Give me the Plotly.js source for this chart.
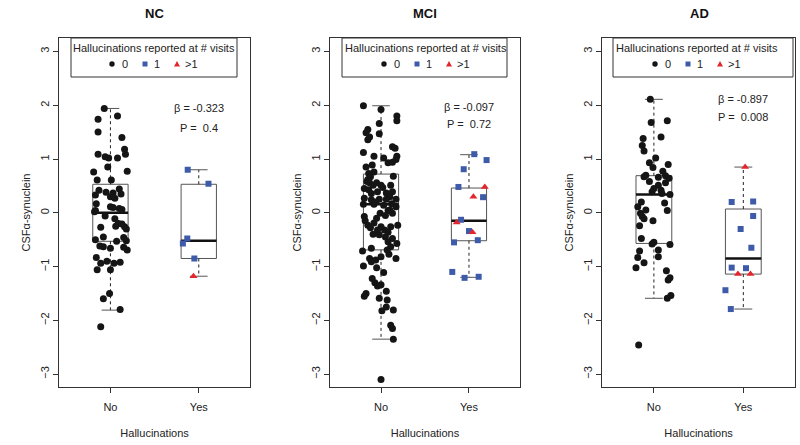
<!DOCTYPE html>
<html>
<head>
<meta charset="utf-8">
<script src="https://cdn.plot.ly/plotly-3.0.1.min.js"></script>
<style>
  html, body { margin: 0; padding: 0; background: #fff; }
  #chart { width: 800px; height: 445px; }
</style>
</head>
<body>
<div id="chart"></div>
<script>
// groups and labels
var panels = ['NC', 'MCI', 'AD'];
var groupLabels = ['No', 'Yes'];
var legendTitle = 'Hallucinations reported at # visits';
var legendNames = ['0', '1', '>1'];
var betaText = ['β = -0.323', 'β = -0.097', 'β = -0.897'];
var pText = ['P =  0.4', 'P =  0.72', 'P =  0.008'];

// box stats per panel: [No, Yes]
var q1 = [[-0.53, -0.85], [-0.69, -0.52], [-0.57, -1.14]];
var med = [[0.00, -0.52], [0.16, -0.15], [0.34, -0.85]];
var q3 = [[0.53, 0.53], [0.72, 0.46], [0.69, 0.07]];
var lowW = [[-1.81, -1.18], [-2.35, -1.20], [-1.59, -1.79]];
var upW = [[1.94, 0.80], [1.99, 1.08], [2.11, 0.85]];

// NC, hallucinations = No (0 visits)
var ncNoY = [1.94, 1.74, 1.80, 1.50, 1.40, 1.18, 1.09, 1.09, 1.04, 1.02, 1.02, 0.85, 0.77, 0.76, 0.61, 0.61,
  0.42, 0.38, 0.37, 0.44, 0.35, 0.33, 0.30, 0.27, 0.17, 0.11, 0.10, 0.06, 0.04, -0.06, -0.11, -0.20, -0.25,
  -0.27, -0.26, -0.21, -0.45, -0.46, -0.50, -0.52, -0.53, -0.62, -0.63, -0.66, -0.64, -0.69, -0.83, -0.90,
  -0.94, -0.94, -0.92, -1.06, -1.06, -1.50, -1.60, -1.80, -2.12, 0.02, -0.30, 0.08];
var ncNoX = [-0.07, -0.14, 0.08, -0.14, 0.13, 0.16, 0.17, -0.14, -0.06, -0.02, 0.08, -0.03, 0.19, -0.19, -0.15, 0.01,
  -0.13, -0.05, 0.03, 0.10, 0.12, -0.17, 0.00, 0.05, -0.16, 0.00, 0.03, 0.13, -0.17, -0.06, 0.05, 0.09, 0.06,
  -0.11, 0.16, 0.13, -0.08, 0.15, -0.17, 0.18, 0.07, -0.12, -0.08, 0.00, 0.15, 0.19, -0.16, -0.04,
  -0.11, 0.04, 0.11, -0.15, 0.00, -0.01, -0.08, 0.11, -0.11, -0.18, 0.18, 0.10];
// NC, Yes
var ncYes1Y = [0.80, 0.54, -0.48, -0.57, -0.85];
var ncYes1X = [-0.125, 0.11, -0.13, -0.18, -0.05];
var ncYes2Y = [-1.18];
var ncYes2X = [-0.06];

// MCI, No
var mciNoY = [1.99, 1.92, 1.80, 1.71, 1.66, 1.55, 1.49, 1.47, 1.41, 1.36, 1.12, 1.05, 1.02, 1.23, 1.20, 1.05,
  0.93, 0.94, 0.99, 0.85, 0.89, 0.73, 0.76, 0.67, 0.58, 0.56, 0.51, 0.56, 0.51, 0.51, 0.45, 0.43, 0.36, 0.39,
  0.37, 0.39, 0.27, 0.24, 0.25, 0.25, 0.25, 0.16, 0.16, 0.14, 0.17, 0.11, -0.07, -0.01, 0.04, -0.01, -0.15,
  -0.19, -0.26, -0.32, -0.32, -0.26, -0.23, -0.23, -0.41, -0.45, -0.48, -0.54, -0.63, -0.57, -0.77, -0.69,
  -0.71, -0.66, -0.82, -0.99, -0.85, -0.91, -0.88, -0.85, -1.02, -1.11, -1.22, -1.30, -1.36, -1.34, -1.50,
  -1.55, -1.46, -1.59, -1.62, -1.75, -1.82, -1.81, -2.09, -2.15, -2.35, -3.10, 0.62, 0.30, -0.10, -0.36,
  0.68, 0.20, -0.05, -0.28, 0.05, -0.40, 0.47];
var mciNoX = [-0.20, 0.00, 0.18, 0.18, -0.02, -0.15, -0.17, -0.02, -0.13, -0.15, -0.20, -0.08, 0.03, 0.13, 0.16, 0.18,
  0.08, 0.13, 0.17, -0.17, -0.10, -0.14, -0.08, -0.12, -0.16, -0.13, -0.09, -0.05, 0.00, 0.11, -0.19, -0.14, -0.11, -0.04,
  0.06, 0.13, -0.19, -0.11, -0.02, 0.06, 0.17, -0.20, -0.08, 0.03, 0.12, 0.17, -0.19, -0.01, 0.08, 0.13, -0.18,
  -0.08, 0.00, -0.04, 0.04, 0.11, 0.19, -0.15, -0.02, 0.05, 0.13, 0.08, 0.11, 0.18, 0.09, 0.07,
  -0.21, -0.11, 0.00, -0.20, -0.13, -0.11, -0.06, 0.17, -0.05, 0.03, -0.10, -0.07, -0.04, 0.00, -0.17,
  -0.19, 0.06, -0.02, 0.07, 0.06, 0.01, 0.14, 0.11, 0.13, 0.14, 0.00, -0.15, 0.10, -0.05, 0.08,
  0.14, -0.06, 0.05, -0.12, 0.10, -0.09, 0.02];
// MCI, Yes
var mciYes1Y = [1.09, 0.98, 0.81, 0.48, 0.29, -0.13, -0.34, -0.55, -0.51, -1.10, -1.21, -1.19];
var mciYes1X = [0.06, 0.20, -0.06, -0.12, 0.16, -0.09, 0.00, -0.17, 0.10, -0.19, -0.05, 0.11];
var mciYes2Y = [0.48, 0.30, -0.18, -0.36];
var mciYes2X = [0.18, 0.05, -0.14, 0.04];

// AD, No
var adNoY = [2.11, 1.68, 1.71, 1.41, 1.38, 1.25, 1.15, 1.02, 0.93, 0.90, 0.77, 0.84, 0.70, 0.67, 0.66, 0.69,
  0.64, 0.58, 0.56, 0.51, 0.45, 0.42, 0.36, 0.39, 0.34, 0.20, 0.11, 0.05, 0.04, -0.01, -0.07, -0.11, -0.15,
  -0.24, -0.48, -0.55, -0.59, -0.71, -0.69, -0.83, -0.82, -0.93, -1.02, -1.25, -1.21, -1.59, -1.54, -2.46,
  -1.08, 0.18, -0.58];
var adNoX = [-0.04, -0.03, 0.15, 0.08, -0.12, -0.13, -0.11, 0.02, -0.05, 0.16, 0.10, -0.01, -0.09, -0.11, 0.05, 0.13,
  0.17, -0.05, 0.13, 0.05, 0.00, 0.08, 0.09, -0.02, 0.18, -0.14, -0.18, -0.09, 0.15, -0.15, -0.13, -0.11, -0.01,
  -0.16, -0.14, 0.00, 0.18, -0.16, 0.05, -0.18, 0.05, -0.11, -0.20, 0.16, 0.18, 0.15, 0.19, -0.17,
  0.14, 0.12, -0.02];
// AD, Yes
var adYes1Y = [0.20, 0.21, -0.06, -0.30, -0.65, -1.02, -1.03, -1.44, -1.79];
var adYes1X = [-0.13, 0.11, 0.11, -0.03, 0.09, -0.13, 0.03, -0.20, -0.14];
var adYes2Y = [0.85, -1.14, -1.14];
var adYes2X = [0.02, -0.06, 0.08];

var noY = [ncNoY, mciNoY, adNoY], noX = [ncNoX, mciNoX, adNoX];
var y1 = [ncYes1Y, mciYes1Y, adYes1Y], x1 = [ncYes1X, mciYes1X, adYes1X];
var y2 = [ncYes2Y, mciYes2Y, adYes2Y], x2 = [ncYes2X, mciYes2X, adYes2X];

var W = 800, H = 445;
var FONT = 'Liberation Sans, Arial, sans-serif';
var BLACK = '#151515', BLUE = '#3d5ba9', RED = '#e3262c', BOXC = '#555555';
var boxHalf = 0.2, capHalf = 0.1;

function shift(arr, c) { return arr.map(function (d) { return c + d; }); }
function px(x) { return x / W; }
function py(y) { return 1 - y / H; }

var data = [];
var domains = [[0.074, 0.3125], [0.4125, 0.65], [0.7525, 0.994]];
var centers = [0.1925, 0.531, 0.874];

for (var p = 0; p < 3; p++) {
  var xa = p === 0 ? 'x' : 'x' + (p + 1);
  var ya = p === 0 ? 'y' : 'y' + (p + 1);

  // box body
  data.push({
    type: 'box', xaxis: xa, yaxis: ya, x: [1, 2],
    q1: q1[p], median: med[p], q3: q3[p], lowerfence: q1[p], upperfence: q3[p],
    width: 2 * boxHalf, whiskerwidth: 0, boxpoints: false,
    line: {color: BOXC, width: 1}, fillcolor: 'rgba(0,0,0,0)',
    showlegend: false, hoverinfo: 'skip'
  });

  // whiskers (dashed), caps and thick medians
  var wx = [], wy = [], cx = [], cy = [], mx = [], my = [];
  for (var g = 0; g < 2; g++) {
    var c = g + 1;
    wx.push(c, c, null, c, c, null);
    wy.push(q3[p][g], upW[p][g], null, q1[p][g], lowW[p][g], null);
    cx.push(c - capHalf, c + capHalf, null, c - capHalf, c + capHalf, null);
    cy.push(upW[p][g], upW[p][g], null, lowW[p][g], lowW[p][g], null);
    mx.push(c - boxHalf, c + boxHalf, null);
    my.push(med[p][g], med[p][g], null);
  }
  data.push({type: 'scatter', mode: 'lines', xaxis: xa, yaxis: ya, x: wx, y: wy,
    line: {color: '#222', width: 1, dash: '3px,3px'}, showlegend: false, hoverinfo: 'skip'});
  data.push({type: 'scatter', mode: 'lines', xaxis: xa, yaxis: ya, x: cx, y: cy,
    line: {color: BOXC, width: 1}, showlegend: false, hoverinfo: 'skip'});
  data.push({type: 'scatter', mode: 'lines', xaxis: xa, yaxis: ya, x: mx, y: my,
    line: {color: '#111', width: 2.5}, showlegend: false, hoverinfo: 'skip'});

  // points
  data.push({type: 'scatter', mode: 'markers', xaxis: xa, yaxis: ya, name: legendNames[0], showlegend: false,
    x: shift(noX[p], 1), y: noY[p], marker: {symbol: 'circle', size: 7, color: BLACK}});
  data.push({type: 'scatter', mode: 'markers', xaxis: xa, yaxis: ya, name: legendNames[1], showlegend: false,
    x: shift(x1[p], 2), y: y1[p], marker: {symbol: 'square', size: 6, color: BLUE}});
  data.push({type: 'scatter', mode: 'markers', xaxis: xa, yaxis: ya, name: legendNames[2], showlegend: false,
    x: shift(x2[p], 2), y: y2[p], marker: {symbol: 'triangle-up', size: 7, color: RED}});
}

var layout = {
  width: W, height: H,
  margin: {l: 0, r: 0, t: 0, b: 0},
  paper_bgcolor: '#fff', plot_bgcolor: '#fff',
  font: {family: FONT, size: 11, color: '#222'},
  showlegend: false,
  annotations: [],
  shapes: [],
  hovermode: false
};

var betaY = [[1.94, 1.58], [1.97, 1.65], [2.11, 1.78]];
// legend boxes drawn by hand (left, right, title centre in px)
var legBox = [[71, 237, 154], [342, 507, 426], [613, 793, 697]];
var legOff = [[-42, -29], [-9, 3], [23, 37]];
var legColors = [BLACK, BLUE, RED];

for (var p = 0; p < 3; p++) {
  var sfx = p === 0 ? '' : String(p + 1);
  layout['xaxis' + sfx] = {
    domain: domains[p], anchor: 'y' + sfx, range: [0.42, 2.58],
    tickvals: [1, 2], ticktext: groupLabels, ticks: 'outside', ticklen: 5, tickcolor: '#333',
    ticklabelstandoff: 5,
    showgrid: false, zeroline: false, showline: true, mirror: true, linecolor: '#333', linewidth: 1,
    tickfont: {size: 11, color: '#222'},
    title: {text: 'Hallucinations', font: {size: 11, color: '#222'}, standoff: 17}
  };
  layout['yaxis' + sfx] = {
    domain: [0.1303, 0.9146], anchor: 'x' + sfx, range: [-3.24, 3.25],
    tickvals: [-3, -2, -1, 0, 1, 2, 3], ticks: 'outside', ticklen: 5, tickcolor: '#333', tickangle: -90,
    showgrid: false, zeroline: false, showline: true, mirror: true, linecolor: '#333', linewidth: 1,
    tickfont: {size: 11, color: '#222'},
    title: {text: 'CSFα-synuclein', font: {size: 11, color: '#222'}, standoff: 5}
  };

  layout.annotations.push({xref: 'paper', yref: 'paper', x: centers[p], y: py(13),
    xanchor: 'center', yanchor: 'middle',
    text: '<b>' + panels[p] + '</b>', showarrow: false, font: {size: 13, color: '#111'}});
  layout.annotations.push({xref: 'x' + sfx, yref: 'y' + sfx, x: 2, y: betaY[p][0],
    text: betaText[p], showarrow: false, font: {size: 11, color: '#222'}});
  layout.annotations.push({xref: 'x' + sfx, yref: 'y' + sfx, x: 2, y: betaY[p][1],
    text: pText[p], showarrow: false, font: {size: 11, color: '#222'}});

  // legend
  var lb = legBox[p];
  layout.shapes.push({type: 'rect', xref: 'paper', yref: 'paper',
    x0: px(lb[0]), x1: px(lb[1]), y0: py(77), y1: py(38),
    line: {color: '#333', width: 1}, fillcolor: '#fff', layer: 'above'});
  layout.annotations.push({xref: 'paper', yref: 'paper', x: px(lb[2]), y: py(48),
    xanchor: 'center', yanchor: 'middle',
    text: legendTitle, showarrow: false, font: {size: 11, color: '#222'}});
  for (var k = 0; k < 3; k++) {
    var sx = px(lb[2] + legOff[k][0]), sy = py(64);
    if (k === 0) {
      layout.shapes.push({type: 'circle', xref: 'paper', yref: 'paper', xsizemode: 'pixel', ysizemode: 'pixel',
        xanchor: sx, yanchor: sy, x0: -2.7, x1: 2.7, y0: -2.7, y1: 2.7,
        fillcolor: legColors[k], line: {width: 0}, layer: 'above'});
    } else if (k === 1) {
      layout.shapes.push({type: 'rect', xref: 'paper', yref: 'paper', xsizemode: 'pixel', ysizemode: 'pixel',
        xanchor: sx, yanchor: sy, x0: -2.5, x1: 2.5, y0: -2.5, y1: 2.5,
        fillcolor: legColors[k], line: {width: 0}, layer: 'above'});
    } else {
      layout.shapes.push({type: 'path', xref: 'paper', yref: 'paper', xsizemode: 'pixel', ysizemode: 'pixel',
        xanchor: sx, yanchor: sy, path: 'M-3,-2.5 L3,-2.5 L0,3 Z',
        fillcolor: legColors[k], line: {width: 0}, layer: 'above'});
    }
    layout.annotations.push({xref: 'paper', yref: 'paper', x: px(lb[2] + legOff[k][1]), y: sy,
      xanchor: 'center', yanchor: 'middle',
      text: legendNames[k], showarrow: false, font: {size: 11, color: '#222'}});
  }
}

Plotly.newPlot('chart', data, layout, {staticPlot: true});
</script>
</body>
</html>
